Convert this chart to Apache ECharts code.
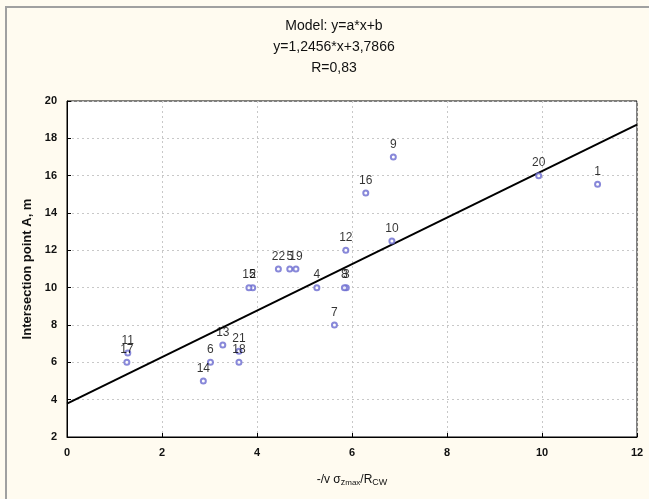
<!DOCTYPE html>
<html>
<head>
<meta charset="utf-8">
<script src="https://cdn.jsdelivr.net/npm/echarts@6/dist/echarts.min.js"></script>
<style>
    html, body { margin: 0; padding: 0; background: #fffbf0; }
    #frame { position: absolute; left: 5px; top: 6px; width: 644px; height: 493px;
        border-left: 2px solid #a0a0a0; border-top: 2px solid #a0a0a0; }
    #chart { position: absolute; left: 0; top: 0; width: 649px; height: 499px; }
</style>
</head>
<body>
<div id="frame"></div>
<div id="chart"></div>
<script>
// observation ids and measured values
const pointIds = ['1', '2', '3', '4', '5', '6', '7', '8', '9', '10', '11',
    '12', '13', '14', '15', '16', '17', '18', '19', '20', '21', '22'];
const xValues = [11.17, 3.91, 5.88, 5.26, 4.69, 3.02, 5.63, 5.84, 6.87, 6.84, 1.28,
    5.87, 3.28, 2.87, 3.83, 6.29, 1.26, 3.62, 4.82, 9.93, 3.62, 4.45];
const yValues = [15.54, 10, 10, 10, 11, 6, 8, 10, 17, 12.5, 6.5,
    12, 6.93, 5, 10, 15.07, 6, 6, 11, 16, 6.6, 11];
// fitted model y = a*x + b
const slope = 1.2456;
const intercept = 3.7866;
const fitX = [0, 12];
const titleLines = ['Model: y=a*x+b', 'y=1,2456*x+3,7866', 'R=0,83'];

let chart = echarts.init(document.getElementById('chart'));

let points = xValues.map((x, i) => ({ name: pointIds[i], value: [x, yValues[i]] }));
let fitLine = fitX.map(x => [x, slope * x + intercept]);

let option = {
    backgroundColor: 'transparent',
    textStyle: { fontFamily: 'Liberation Sans, Arial, sans-serif' },
    title: {
        text: titleLines.join('\n'),
        left: 329,
        textAlign: 'center',
        top: 11,
        textStyle: {
            fontSize: 14,
            fontWeight: 'normal',
            color: '#111',
            lineHeight: 21
        }
    },
    grid: {
        left: 67,
        right: 12,
        top: 101,
        bottom: 62,
        show: true,
        backgroundColor: '#ffffff',
        borderColor: '#000',
        borderWidth: 1
    },
    xAxis: {
        type: 'value',
        min: 0,
        max: 12,
        interval: 2,
        name: '-/v σ{s1|z}{s2|max}/R{s1|CW}',
        nameLocation: 'middle',
        nameGap: 36,
        nameTextStyle: {
            fontSize: 12,
            color: '#111',
            rich: {
                s1: { fontSize: 9, color: '#111', verticalAlign: 'bottom', padding: [4, 0, 0, 0] },
                s2: { fontSize: 8, color: '#111', verticalAlign: 'bottom', padding: [6, 0, 0, 0] }
            }
        },
        axisLine: { lineStyle: { color: '#000' } },
        axisTick: { inside: true, length: 4, lineStyle: { color: '#000' } },
        axisLabel: { color: '#111', fontSize: 11, fontWeight: 'bold', margin: 10 },
        splitLine: { show: true, lineStyle: { color: '#c8c8c8', type: [2, 3] } }
    },
    yAxis: {
        type: 'value',
        min: 2,
        max: 20,
        interval: 2,
        name: 'Intersection point A, m',
        nameLocation: 'middle',
        nameGap: 28,
        nameTextStyle: { fontSize: 13, fontWeight: 'bold', color: '#111' },
        axisLine: { lineStyle: { color: '#000' } },
        axisTick: { inside: true, length: 4, lineStyle: { color: '#000' } },
        axisLabel: { color: '#111', fontSize: 11, fontWeight: 'bold', margin: 10 },
        splitLine: { show: true, lineStyle: { color: '#c8c8c8', type: [2, 3] } }
    },
    series: [
        {
            type: 'line',
            data: fitLine,
            symbol: 'none',
            lineStyle: { color: '#000', width: 2 },
            z: 2,
            silent: true
        },
        {
            type: 'scatter',
            data: points,
            symbol: 'emptyCircle',
            symbolSize: 5,
            itemStyle: { color: '#6a6ad0', borderColor: '#6a6ad0', borderWidth: 1 },
            label: {
                show: true,
                position: 'top',
                distance: 3,
                formatter: p => p.name,
                color: '#000',
                fontSize: 12
            },
            labelLayout: { hideOverlap: false },
            z: 3
        }
    ]
};
chart.setOption(option, true);
</script>
</body>
</html>
